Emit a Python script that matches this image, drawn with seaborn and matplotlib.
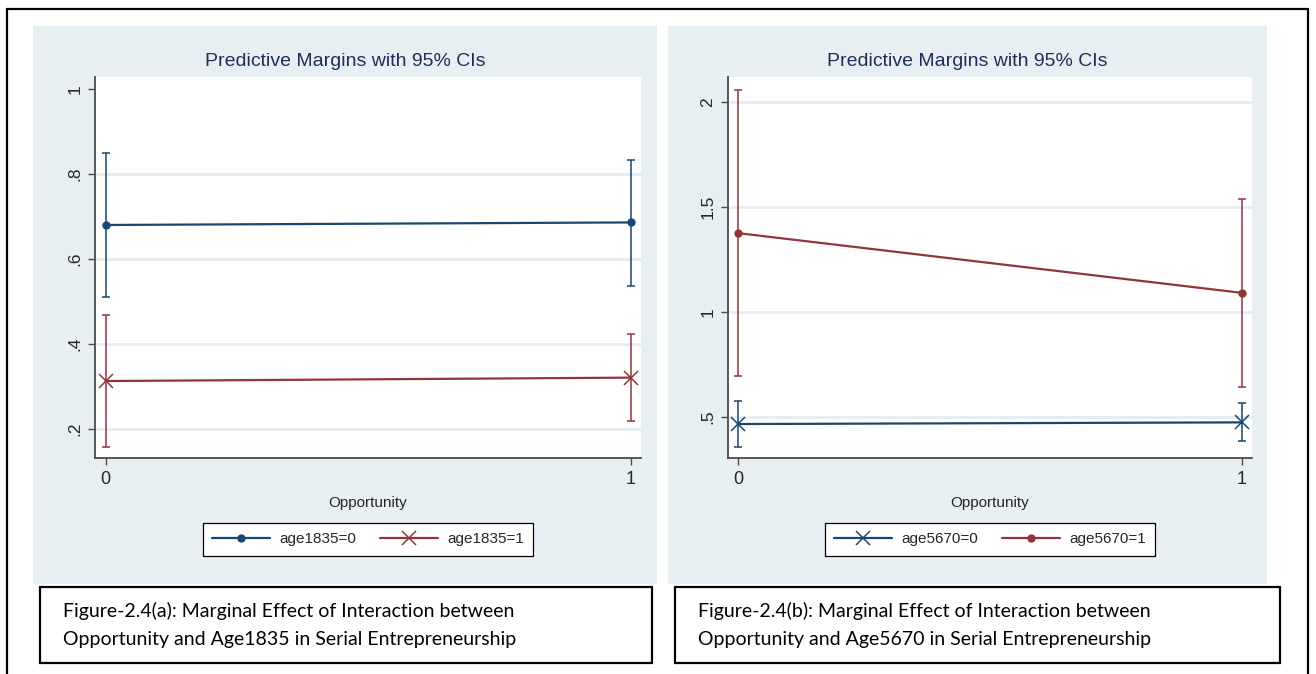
import numpy as np
import pandas as pd
import matplotlib
matplotlib.use("Agg")
import matplotlib.pyplot as plt
import seaborn as sns
from matplotlib.patches import Rectangle
from matplotlib.lines import Line2D

# ---------------- data ----------------
opportunity = [0, 1]
x_ticklabels = ["0", "1"]

# panel (a)
a_labels = ["age1835=0", "age1835=1"]
a0_margin = [0.680, 0.686]
a0_lo = [0.511, 0.537]
a0_hi = [0.850, 0.833]
a1_margin = [0.313, 0.321]
a1_lo = [0.158, 0.220]
a1_hi = [0.469, 0.423]
a_yticks = [0.2, 0.4, 0.6, 0.8, 1.0]
a_yticklabels = [".2", ".4", ".6", ".8", "1"]

# panel (b)
b_labels = ["age5670=0", "age5670=1"]
b0_margin = [0.465, 0.473]
b0_lo = [0.357, 0.384]
b0_hi = [0.575, 0.564]
b1_margin = [1.376, 1.091]
b1_lo = [0.694, 0.643]
b1_hi = [2.059, 1.540]
b_yticks = [0.5, 1.0, 1.5, 2.0]
b_yticklabels = [".5", "1", "1.5", "2"]

title = "Predictive Margins with 95% CIs"
xlabel = "Opportunity"
caption_a = ["Figure-2.4(a): Marginal Effect of Interaction between",
             "Opportunity and Age1835 in Serial Entrepreneurship"]
caption_b = ["Figure-2.4(b): Marginal Effect of Interaction between",
             "Opportunity and Age5670 in Serial Entrepreneurship"]

# ---------------- style ----------------
sns.set_style("white")
plt.rcParams["font.family"] = ["Liberation Sans", "DejaVu Sans"]

W, H = 1316, 674
fig = plt.figure(figsize=(W / 100, H / 100), dpi=100)
fig.patch.set_facecolor("white")

def fx(x):
    return x / W

def fy(y):
    return 1 - y / H

BLUE = "#1A476F"
RED = "#90353B"
PANEL = "#E8EFF2"
GRID = "#E6EDF0"
TITLE_C = "#1F2D5A"
AXC = "#4A4A4A"

# outer border
for (x0, y0, x1, y1) in [(7, 9, 1308, 9), (7, 9, 7, 680), (1308, 9, 1308, 680)]:
    fig.add_artist(Line2D([fx(x0), fx(x1)], [fy(y0), fy(y1)], color="black", lw=1.6,
                          transform=fig.transFigure))

# panel backgrounds
for (x0, x1) in [(33, 657), (668, 1267)]:
    fig.add_artist(Rectangle((fx(x0), fy(584)), fx(x1) - fx(x0), fy(26) - fy(584),
                             transform=fig.transFigure, facecolor=PANEL, edgecolor="none", zorder=0))

# caption boxes
for (x0, x1, lines) in [(40, 652, caption_a), (675, 1280, caption_b)]:
    fig.add_artist(Rectangle((fx(x0), fy(663)), fx(x1) - fx(x0), fy(587) - fy(663),
                             transform=fig.transFigure, facecolor="white", edgecolor="black",
                             lw=1.6, zorder=1))
    for i, line in enumerate(lines):
        fig.text(fx(x0 + 23), fy(611 + 29 * i), line, fontsize=14, family=["Lato", "DejaVu Sans"],
                 ha="left", va="center", color="black", zorder=2)


def make_panel(ax_rect, series, yticks, yticklabels, ylim, panel_center, leg_center):
    ax = fig.add_axes(ax_rect)
    ax.set_facecolor("white")
    for (xv, m, lo, hi, color, marker, ms, lab) in series:
        sns.lineplot(x=xv, y=m, ax=ax, color=color, marker=marker, markersize=ms,
                     markeredgewidth=1.1 if marker == "x" else 0, markeredgecolor=color,
                     linewidth=1.6, label=lab, zorder=3, errorbar=None)
        yerr = np.array([np.subtract(m, lo), np.subtract(hi, m)])
        ax.errorbar(xv, m, yerr=yerr, fmt="none", ecolor=color, elinewidth=1.1,
                    capsize=3, capthick=1.1, zorder=2)
    ax.set_xlim(-0.02, 1.02)
    ax.set_ylim(*ylim)
    ax.set_xticks(opportunity)
    ax.set_xticklabels(x_ticklabels, fontsize=13)
    ax.set_yticks(yticks)
    ax.set_yticklabels(yticklabels, fontsize=12.5, rotation=90, va="center")
    for v in yticks:
        if v < ylim[1] - 0.05 * (ylim[1] - ylim[0]):
            ax.axhline(v, color=GRID, lw=2, zorder=1)
    for s in ["top", "right"]:
        ax.spines[s].set_visible(False)
    for s in ["left", "bottom"]:
        ax.spines[s].set_color(AXC)
        ax.spines[s].set_linewidth(1.3)
    ax.tick_params(axis="both", direction="out", length=5, width=1, color=AXC,
                   left=True, bottom=True, pad=4)
    ax.set_xlabel(xlabel, fontsize=11, labelpad=6)
    ax.set_ylabel("")
    fig.text(fx(panel_center), fy(62), title, fontsize=14, color=TITLE_C, ha="center", va="center")
    ax.legend(loc="center", bbox_to_anchor=(fx(leg_center), fy(539.5)),
              bbox_transform=fig.transFigure, ncol=2, fontsize=11, frameon=True,
              fancybox=False, edgecolor="black", framealpha=1, handlelength=3.8,
              handletextpad=0.6, columnspacing=1.6, borderpad=0.6)
    ax.get_legend().get_frame().set_linewidth(0.9)
    return ax


make_panel([fx(95), fy(458), fx(641) - fx(95), fy(77) - fy(458)],
           [(opportunity, a0_margin, a0_lo, a0_hi, BLUE, "o", 6, a_labels[0]),
            (opportunity, a1_margin, a1_lo, a1_hi, RED, "x", 10, a_labels[1])],
           a_yticks, a_yticklabels, (0.132, 1.028), 345, 368)

make_panel([fx(728), fy(458), fx(1252) - fx(728), fy(77) - fy(458)],
           [(opportunity, b0_margin, b0_lo, b0_hi, BLUE, "x", 10, b_labels[0]),
            (opportunity, b1_margin, b1_lo, b1_hi, RED, "o", 6, b_labels[1])],
           b_yticks, b_yticklabels, (0.303, 2.121), 967.5, 990)

fig.savefig("out.png", dpi=100, facecolor="white")
